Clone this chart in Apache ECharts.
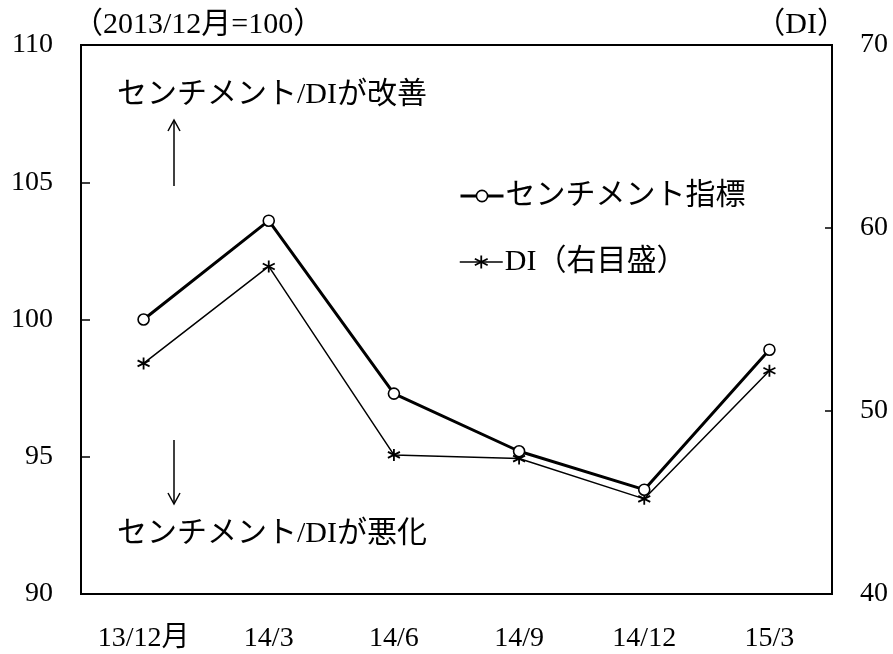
<!DOCTYPE html>
<html>
<head>
<meta charset="utf-8">
<script src="https://cdn.jsdelivr.net/npm/echarts@6/dist/echarts.min.js"></script>
<style>html,body{margin:0;padding:0;background:#fff;}#c{width:893px;height:654px;}</style>
</head>
<body>
<div id="c"></div>
<script>
const categories = ['13/12月', '14/3', '14/6', '14/9', '14/12', '15/3'];
const sentiment = [100.0, 103.6, 97.3, 95.2, 93.8, 98.9];
const di = [52.6, 57.9, 47.6, 47.4, 45.2, 52.2];
const leftTicks = [90, 95, 100, 105, 110];
const rightTicks = [40, 50, 60, 70];
const seriesNames = ['センチメント指標', 'DI（右目盛）'];

const FONT = "'Liberation Serif', 'Noto Sans CJK JP', serif";
const FS = 28;
const FS_JP = 30;
const asterisk = 'path://M0,-10L0,10M-8.66,-5L8.66,5M-8.66,5L8.66,-5';

const chart = echarts.init(document.getElementById('c'));
chart.setOption({
  animation: false,
  backgroundColor: '#fff',
  grid: { left: 81, right: 61, top: 45, bottom: 60, show: true, borderColor: '#000', borderWidth: 2, backgroundColor: 'transparent' },
  legend: [
    { data: [seriesNames[0]], left: 454, top: 176, orient: 'vertical', itemWidth: 43, itemHeight: 14, itemGap: 0,
      lineStyle: { width: 3, color: '#000' },
      itemStyle: { color: '#fff', borderColor: '#000', borderWidth: 1.6 },
      textStyle: { fontFamily: FONT, fontSize: FS_JP, color: '#000', padding: [0, 0, 0, -3] } },
    { data: [seriesNames[1]], left: 454, top: 242, orient: 'vertical', itemWidth: 43, itemHeight: 16, itemGap: 0,
      lineStyle: { width: 1.5, color: '#000' },
      itemStyle: { color: 'none', borderColor: '#000', borderWidth: 1.8 },
      textStyle: { fontFamily: FONT, fontSize: FS_JP, color: '#000', padding: [0, 0, 0, -3] } }
  ],
  xAxis: {
    type: 'category', data: categories, boundaryGap: true,
    axisLine: { show: true, lineStyle: { color: '#000', width: 2 } },
    axisTick: { show: false },
    axisLabel: { fontFamily: FONT, fontSize: FS, color: '#000', margin: 31, interval: 0 },
    splitLine: { show: false }
  },
  yAxis: [
    {
      type: 'value', min: leftTicks[0], max: leftTicks[leftTicks.length - 1], interval: 5, position: 'left',
      axisLine: { show: true, lineStyle: { color: '#000', width: 2 } },
      axisTick: { show: true, inside: true, length: 9, lineStyle: { color: '#000', width: 1.5 } },
      axisLabel: { fontFamily: FONT, fontSize: FS, color: '#000', margin: 28, padding: [5, 0, 0, 0] },
      splitLine: { show: false }
    },
    {
      type: 'value', min: rightTicks[0], max: rightTicks[rightTicks.length - 1], interval: 10, position: 'right',
      axisLine: { show: true, lineStyle: { color: '#000', width: 2 } },
      axisTick: { show: true, inside: true, length: 7, lineStyle: { color: '#000', width: 1.5 } },
      axisLabel: { fontFamily: FONT, fontSize: FS, color: '#000', margin: 28, padding: [5, 0, 0, 0] },
      splitLine: { show: false }
    }
  ],
  series: [
    {
      name: seriesNames[0], type: 'line', yAxisIndex: 0, data: sentiment,
      symbol: 'circle', symbolSize: 11, showSymbol: true,
      lineStyle: { color: '#000', width: 3 },
      itemStyle: { color: '#fff', borderColor: '#000', borderWidth: 1.6 },
      z: 3
    },
    {
      name: seriesNames[1], type: 'line', yAxisIndex: 1, data: di,
      symbol: asterisk, symbolSize: 12, showSymbol: true,
      lineStyle: { color: '#000', width: 1.5 },
      itemStyle: { color: 'none', borderColor: '#000', borderWidth: 1.8 },
      z: 2
    }
  ],
  graphic: [
    { type: 'text', left: 73, top: 10, style: { text: '（2013/12月=100）', fontFamily: FONT, fontSize: FS_JP, fill: '#000' } },
    { type: 'text', right: 46, top: 10, style: { text: '（DI）', fontFamily: FONT, fontSize: FS_JP, fill: '#000' } },
    { type: 'text', left: 117, top: 80, style: { text: 'センチメント/DIが改善', fontFamily: FONT, fontSize: FS_JP, fill: '#000' } },
    { type: 'text', left: 117, top: 519, style: { text: 'センチメント/DIが悪化', fontFamily: FONT, fontSize: FS_JP, fill: '#000' } },
    { type: 'line', shape: { x1: 174, y1: 186, x2: 174, y2: 121 }, style: { stroke: '#000', lineWidth: 1.5 } },
    { type: 'polyline', shape: { points: [[168, 131], [174, 120], [180, 131]] }, style: { stroke: '#000', lineWidth: 1.5, fill: null } },
    { type: 'line', shape: { x1: 174, y1: 440, x2: 174, y2: 503 }, style: { stroke: '#000', lineWidth: 1.5 } },
    { type: 'polyline', shape: { points: [[168, 493], [174, 504], [180, 493]] }, style: { stroke: '#000', lineWidth: 1.5, fill: null } }
  ]
});
</script>
</body>
</html>
